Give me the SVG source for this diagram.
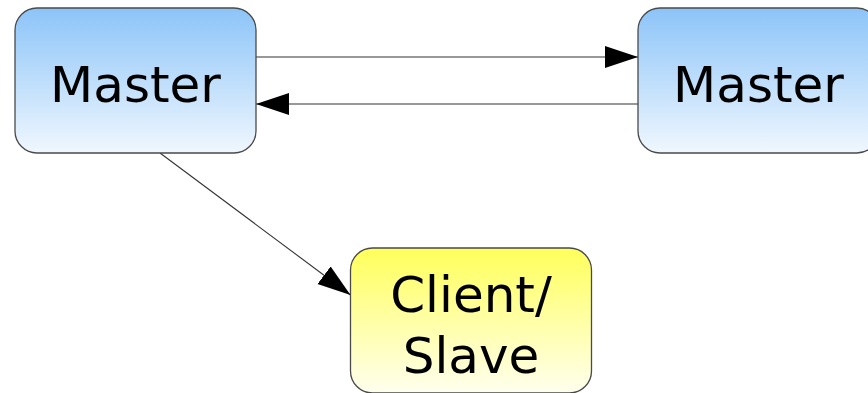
<svg xmlns="http://www.w3.org/2000/svg" width="868" height="393" viewBox="0 0 868 393">
<defs>
<linearGradient id="gBlue" x1="0" y1="0" x2="0" y2="1">
<stop offset="0" stop-color="#8cc4f8"/>
<stop offset="1" stop-color="#f0f7fe"/>
</linearGradient>
<linearGradient id="gYellow" x1="0" y1="0" x2="0" y2="1">
<stop offset="0" stop-color="#ffff5c"/>
<stop offset="1" stop-color="#ffffee"/>
</linearGradient>
<marker id="arr" markerUnits="userSpaceOnUse" markerWidth="34" markerHeight="24" refX="33" refY="11" orient="auto">
<path d="M0,0 L33,11 L0,22 Z" fill="#000"/>
</marker>
</defs>
<style>
.box{stroke:#4a4a4a;stroke-width:1.3}
.lbl{font-family:"Comic Sans MS","DejaVu Sans",sans-serif;font-size:50px;fill:#000;text-anchor:middle}
.con{stroke:#333;stroke-width:1.1;fill:none}
</style>
<g id="connectors">
<line class="con" x1="256" y1="57" x2="638" y2="57" marker-end="url(#arr)"/>
<line class="con" x1="638" y1="104" x2="256" y2="104" marker-end="url(#arr)"/>
<line class="con" x1="160" y1="153" x2="350.5" y2="295" marker-end="url(#arr)"/>
</g>
<g id="master1">
<rect class="box" x="15" y="8" width="241" height="145" rx="22" fill="url(#gBlue)"/>
<text class="lbl" x="135.5" y="102">Master</text>
</g>
<g id="master2">
<rect class="box" x="638" y="8" width="241" height="145" rx="22" fill="url(#gBlue)"/>
<text class="lbl" x="758.5" y="102">Master</text>
</g>
<g id="client">
<rect class="box" x="350.5" y="248" width="241" height="145" rx="22" fill="url(#gYellow)"/>
<text class="lbl" x="471" y="312">Client/</text>
<text class="lbl" x="471" y="373">Slave</text>
</g>
</svg>
